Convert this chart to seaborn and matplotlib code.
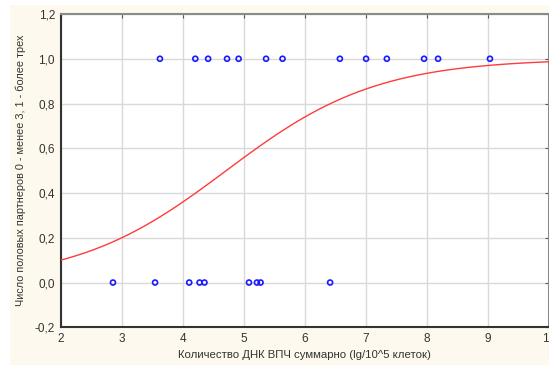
import numpy as np
import pandas as pd
import seaborn as sns
import matplotlib
matplotlib.use("Agg")
import matplotlib.pyplot as plt
from matplotlib.patches import Rectangle
from matplotlib.ticker import FuncFormatter

# Observed cases: HPV DNA load (lg/10^5 cells) vs. partner group (0 / 1)
dna_group1 = [3.63, 4.21, 4.42, 4.73, 4.92, 5.37, 5.64, 6.58, 7.01, 7.35, 7.96, 8.19, 9.04]
dna_group0 = [2.86, 3.55, 4.11, 4.28, 4.36, 5.09, 5.22, 5.28, 6.42]

# Logistic model coefficients: p = 1 / (1 + exp(-(b0 + b1 * x)))
b0 = -3.82
b1 = 0.81

x_ticks = [2, 3, 4, 5, 6, 7, 8, 9, 10]
y_ticks = [-0.2, 0.0, 0.2, 0.4, 0.6, 0.8, 1.0, 1.2]

points = pd.DataFrame({
    "dna": dna_group1 + dna_group0,
    "partners": [1.0] * len(dna_group1) + [0.0] * len(dna_group0),
})
grid_x = np.linspace(x_ticks[0], x_ticks[-1], 60)
curve = pd.DataFrame({"dna": grid_x, "p": 1.0 / (1.0 + np.exp(-(b0 + b1 * grid_x)))})

sns.set_style("white")
plt.rcParams["font.family"] = ["Liberation Sans", "DejaVu Sans"]

fig = plt.figure(figsize=(5.49, 3.65), dpi=100, facecolor="white")
fig.patches.append(Rectangle((10 / 549, 0), 1, 1 - 5 / 365, transform=fig.transFigure,
                             facecolor="#fef9ee", edgecolor="none", zorder=-10))
ax = fig.add_axes([60.5 / 549, 1 - 327.3 / 365, (548.5 - 60.5) / 549, (327.3 - 14) / 365])
ax.set_facecolor("white")

sns.lineplot(data=curve, x="dna", y="p", ax=ax, color="#ff3b3b", linewidth=1.0, zorder=3)
sns.scatterplot(data=points, x="dna", y="partners", ax=ax, marker="o", s=13,
                facecolor="none", edgecolor="#1a1aff", linewidth=1.2, zorder=4)

ax.set_xlim(x_ticks[0], x_ticks[-1])
ax.set_ylim(y_ticks[0], y_ticks[-1])
ax.set_xticks(x_ticks)
ax.set_yticks(y_ticks)
ax.xaxis.set_major_formatter(FuncFormatter(lambda v, _: f"{v:g}"))
ax.yaxis.set_major_formatter(FuncFormatter(lambda v, _: f"{v:.1f}".replace(".", ",").replace("-0,0", "0,0")))
ax.grid(True, color="#d9d9d9", linewidth=1.0, zorder=0)
ax.set_axisbelow(True)

for side in ("left", "bottom"):
    ax.spines[side].set_color("#333333")
    ax.spines[side].set_linewidth(1.5)
for side in ("top", "right"):
    ax.spines[side].set_visible(True)
    ax.spines[side].set_color("#8a8a8a")
    ax.spines[side].set_linewidth(1.5)

ax.tick_params(axis="both", which="both", labelsize=8.5, labelcolor="#333333",
               length=0, pad=4)
ax.tick_params(top=True, right=True, direction="in", length=3, color="#555555",
               labeltop=False, labelright=False)
ax.tick_params(axis="x", bottom=False)
ax.tick_params(axis="y", left=False)

ax.set_xlabel("Количество ДНК ВПЧ суммарно (lg/10^5 клеток)", fontsize=8.2, color="#333333", labelpad=4)
ax.set_ylabel("Число половых партнеров 0 - менее 3, 1 - более трех", fontsize=7.8, color="#333333", labelpad=6)

fig.savefig("out.png", dpi=100, facecolor=fig.get_facecolor())
